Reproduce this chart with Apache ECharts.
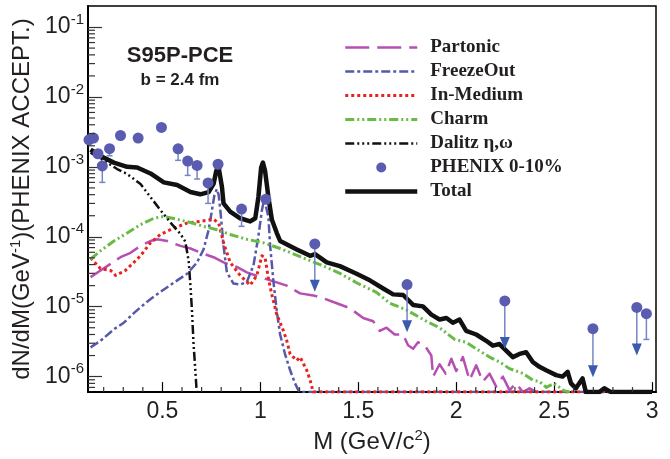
<!DOCTYPE html>
<html><head><meta charset="utf-8">
<script src="https://cdn.jsdelivr.net/npm/echarts@6/dist/echarts.min.js"></script>
<style>html,body{margin:0;padding:0;background:#fff}#chart{width:670px;height:459px}</style>
</head><body><div id="chart"></div>
<script>
// ---------------- data (M in GeV/c^2, dN/dM) ----------------
const seriesNames = ['Partonic','FreezeOut','In-Medium','Charm','Dalitz \u03b7,\u03c9','PHENIX 0-10%','Total'];
const xTickLabels = ['0.5','1','1.5','2','2.5','3'];
const yTickLabels = ['10^-6','10^-5','10^-4','10^-3','10^-2','10^-1'];

const partonic = [[0.133,2.65e-5],[0.184,3.3e-5],[0.235,4.1e-5],[0.286,5.1e-5],[0.337,5.9e-5],[0.388,7.4e-5],[0.439,8.7e-5],[0.473,9.2e-5],[0.524,8.7e-5],[0.592,7.4e-5],[0.643,6.8e-5],[0.710,5.7e-5],[0.761,5.1e-5],[0.812,4.3e-5],[0.880,3.7e-5],[0.931,3.1e-5],[0.999,2.65e-5],[1.067,2.3e-5],[1.135,2.0e-5],[1.203,1.55e-5],[1.270,1.45e-5],[1.321,1.32e-5],[1.390,1.12e-5],[1.457,9.5e-6],[1.525,6.9e-6],[1.576,6.2e-6],[1.610,4.5e-6],[1.644,5.0e-6],[1.686,4.0e-6],[1.729,4.0e-6],[1.754,2.8e-6],[1.780,2.5e-6],[1.805,3.1e-6],[1.839,2.8e-6],[1.873,2.0e-6],[1.882,1.0e-6],[1.915,1.5e-6],[1.946,1.1e-6],[1.975,1.8e-6],[2.0,1.2e-6],[2.034,1.9e-6],[2.068,8.9e-7],[2.102,1.45e-6],[2.136,8.5e-7],[2.170,1.1e-6],[2.204,7.2e-7],[2.238,1.0e-6],[2.272,6.4e-7],[2.306,8.0e-7],[2.340,6e-7],[2.374,6.8e-7],[2.41,6e-7],[2.45,6e-7]];

const freezeOut = [[0.133,2.62e-6],[0.184,3.25e-6],[0.252,4.74e-6],[0.303,5.9e-6],[0.354,8.1e-6],[0.422,1.18e-5],[0.490,1.63e-5],[0.558,2.2e-5],[0.626,2.96e-5],[0.677,4.3e-5],[0.710,6.6e-5],[0.736,1.26e-4],[0.753,2.4e-4],[0.765,3.9e-4],[0.778,4.8e-4],[0.787,4.0e-4],[0.797,2.2e-4],[0.812,7.4e-5],[0.829,3.1e-5],[0.863,2.14e-5],[0.897,2.07e-5],[0.931,2.26e-5],[0.965,3.9e-5],[0.990,1.02e-4],[1.008,2.4e-4],[1.018,3.3e-4],[1.030,2.6e-4],[1.041,1.95e-4],[1.050,7.4e-5],[1.067,2.26e-5],[1.084,8.6e-6],[1.101,4.0e-6],[1.126,2.1e-6],[1.152,1.23e-6],[1.177,8.0e-7],[1.194,6.4e-7],[1.21,6e-7],[2.85,6e-7]];

const inMedium = [[0.133,5.0e-5],[0.184,3.5e-5],[0.235,3.3e-5],[0.261,2.8e-5],[0.311,3.3e-5],[0.354,4.3e-5],[0.388,5.35e-5],[0.439,8.2e-5],[0.490,1.08e-4],[0.558,1.33e-4],[0.626,1.57e-4],[0.693,1.66e-4],[0.761,1.78e-4],[0.787,1.57e-4],[0.812,8.2e-5],[0.846,4.3e-5],[0.897,2.8e-5],[0.948,2.03e-5],[0.982,2.8e-5],[1.008,5.35e-5],[1.024,5.06e-5],[1.041,2.52e-5],[1.059,1.47e-5],[1.084,7.7e-6],[1.118,4.5e-6],[1.135,3.25e-6],[1.152,2.1e-6],[1.186,1.7e-6],[1.203,1.9e-6],[1.237,1.23e-6],[1.254,8.9e-7],[1.270,6e-7],[2.80,6e-7]];

const charm = [[0.133,4.8e-5],[0.184,6.3e-5],[0.252,8.7e-5],[0.320,1.13e-4],[0.388,1.49e-4],[0.456,1.84e-4],[0.507,1.95e-4],[0.575,1.78e-4],[0.643,1.6e-4],[0.710,1.41e-4],[0.778,1.26e-4],[0.846,1.08e-4],[0.931,9.2e-5],[1.016,8.2e-5],[1.101,6.8e-5],[1.203,5.2e-5],[1.305,4.0e-5],[1.406,3.0e-5],[1.491,2.2e-5],[1.593,1.6e-5],[1.661,1.12e-5],[1.746,9.0e-6],[1.847,6.2e-6],[1.915,5.0e-6],[1.992,3.4e-6],[2.051,3.1e-6],[2.102,2.5e-6],[2.170,1.9e-6],[2.221,1.62e-6],[2.272,1.3e-6],[2.340,1.11e-6],[2.391,8.9e-7],[2.425,8.5e-7],[2.46,7.0e-7],[2.50,8.0e-7],[2.55,6.3e-7],[2.58,6e-7]];

const dalitz = [[0.133,1.6e-3],[0.142,1.5e-3],[0.218,1.15e-3],[0.269,9.3e-4],[0.320,7.9e-4],[0.388,5.7e-4],[0.439,3.7e-4],[0.490,2.4e-4],[0.541,1.6e-4],[0.592,1.1e-4],[0.617,8.5e-5],[0.634,4.5e-5],[0.643,2.0e-5],[0.651,8.6e-6],[0.659,2.9e-6],[0.668,1.23e-6],[0.675,6e-7]];

const total = [[0.133,1.77e-3],[0.184,1.43e-3],[0.252,1.15e-3],[0.320,1.0e-3],[0.371,9.8e-4],[0.439,8.05e-4],[0.507,6.0e-4],[0.575,5.5e-4],[0.643,4.36e-4],[0.693,4.05e-4],[0.736,4.36e-4],[0.761,5.7e-4],[0.775,8.8e-4],[0.787,9.8e-4],[0.804,5.13e-4],[0.812,3.0e-4],[0.846,2.29e-4],[0.897,1.84e-4],[0.948,1.66e-4],[0.974,1.84e-4],[0.990,3.7e-4],[1.004,9.8e-4],[1.013,1.15e-3],[1.024,8.8e-4],[1.041,3.7e-4],[1.059,1.75e-4],[1.084,1.13e-4],[1.101,8.7e-5],[1.186,6.6e-5],[1.254,5.35e-5],[1.279,5.65e-5],[1.339,4.3e-5],[1.406,3.8e-5],[1.491,2.96e-5],[1.559,2.38e-5],[1.627,1.82e-5],[1.678,1.5e-5],[1.729,1.47e-5],[1.780,1.06e-5],[1.830,1.01e-5],[1.873,7.7e-6],[1.915,6.55e-6],[1.950,6.9e-6],[1.983,5.9e-6],[2.017,6.55e-6],[2.051,4.5e-6],[2.102,4.0e-6],[2.153,3.25e-6],[2.187,2.77e-6],[2.221,2.92e-6],[2.255,2.36e-6],[2.289,1.9e-6],[2.323,2.11e-6],[2.357,2.23e-6],[2.391,1.62e-6],[2.425,1.38e-6],[2.459,1.23e-6],[2.510,1.05e-6],[2.543,1.0e-6],[2.569,1.17e-6],[2.586,8.0e-7],[2.611,6.8e-7],[2.645,9.4e-7],[2.662,6e-7],[2.73,6e-7],[2.756,6.8e-7],[2.79,6e-7],[3.0,6e-7]];

// PHENIX 0-10% points
const phenixM = [0.125,0.148,0.171,0.193,0.230,0.286,0.376,0.495,0.580,0.629,0.677,0.733,0.784,0.904,1.028,1.278,1.749,2.248,2.698,2.922,2.971];
const phenixY = [2.44e-3,2.58e-3,1.54e-3,1.03e-3,1.82e-3,2.81e-3,2.58e-3,3.67e-3,1.81e-3,1.21e-3,1.05e-3,5.9e-4,1.09e-3,2.49e-4,3.44e-4,7.9e-5,2.07e-5,1.21e-5,4.85e-6,9.75e-6,7.94e-6];
// lower end of error bar (null = none drawn)
const phenixLow = [null,null,null,6.0e-4,1.44e-3,null,null,null,1.24e-3,7.55e-4,6.7e-4,3.0e-4,null,1.41e-4,null,null,null,null,null,null,3.4e-6];
// upper-limit arrows: tip value (null = not an upper limit)
const phenixLimit = [null,null,null,null,null,null,null,null,null,null,null,null,null,null,null,1.63e-5,4.3e-6,2.48e-6,9.8e-7,2.0e-6,null];

// ---------------- axes ----------------
const X_MIN = 0.12, X_MAX = 3.02, Y_MIN = 6e-7, Y_MAX = 0.2;

const xMinor = [];
for (let i = 2; i <= 30; i++) if (i % 5 !== 0) xMinor.push([i / 10, Y_MIN]);
const yMinor = [];
for (let e = -7; e <= -1; e++) for (let k = 2; k <= 9; k++) {
  const v = k * Math.pow(10, e);
  if (v > Y_MIN && v < Y_MAX) yMinor.push([X_MIN, v]);
}

const TXT = '#231f20';
const FONT = '"Liberation Sans", Arial, sans-serif';

const pts = phenixM.map((m, i) => [m, phenixY[i]]);
const errs = [];
phenixM.forEach((m, i) => { if (phenixLow[i] !== null) errs.push([m, phenixY[i], phenixLow[i]]); });
const lims = [];
phenixM.forEach((m, i) => { if (phenixLimit[i] !== null) lims.push([m, phenixY[i], phenixLimit[i]]); });

function lineSeries(name, data, color, width, dash, z) {
  return {
    name, type: 'line', data, showSymbol: false, symbol: 'none', smooth: false,
    lineStyle: { color, width, type: dash, cap: 'butt', join: 'round' },
    itemStyle: { color }, z: z || 2, animation: false, clip: true
  };
}

const hiddenSymbol = { color: 'rgba(0,0,0,0)', borderColor: 'rgba(0,0,0,0)', borderWidth: 0, opacity: 0 };
const legendData = seriesNames.map(n => n === 'PHENIX 0-10%'
  ? { name: n, itemStyle: { color: '#5a5cb0', borderColor: '#fff', borderWidth: 4, opacity: 1 } }
  : { name: n, itemStyle: hiddenSymbol, lineStyle: { width: 'inherit' } });

const chart = echarts.init(document.getElementById('chart'), null, { renderer: 'canvas' });
chart.setOption({
  animation: false,
  backgroundColor: '#fff',
  grid: { left: 88, right: 14, top: 6, bottom: 59, show: true, borderColor: '#000', borderWidth: 1.5, backgroundColor: 'transparent' },
  xAxis: {
    type: 'value', min: X_MIN, max: X_MAX,
    name: '{a|M (GeV/c}{s|2}{a|)}', nameLocation: 'middle', nameGap: 30,
    nameTextStyle: { color: TXT, fontFamily: FONT, fontSize: 24, verticalAlign: 'top',
      rich: { a: { fontSize: 24, fontFamily: FONT, color: TXT, lineHeight: 28 }, s: { fontSize: 15, fontFamily: FONT, color: TXT, verticalAlign: 'top', lineHeight: 16 } } },
    axisLine: { show: true, onZero: false, lineStyle: { color: '#000', width: 2 } },
    axisTick: { show: true, inside: true, length: 10, lineStyle: { color: '#000', width: 1.2 } },
    minorTick: { show: false },
    splitLine: { show: false },
    axisLabel: {
      show: true, margin: 8, color: TXT, fontFamily: FONT, fontSize: 23, showMinLabel: false, showMaxLabel: false,
      formatter: v => { const s = String(Math.round(v * 10) / 10); return xTickLabels.includes(s) ? s : ''; }
    }
  },
  yAxis: {
    type: 'log', logBase: 10, min: Y_MIN, max: Y_MAX,
    name: '{a|dN/dM(GeV}{s|-1}{a|)(PHENIX ACCEPT.)}', nameLocation: 'middle', nameGap: 50, nameRotate: 90,
    nameTextStyle: { color: TXT, fontFamily: FONT, fontSize: 24,
      rich: { a: { fontSize: 24, fontFamily: FONT, color: TXT, lineHeight: 28 }, s: { fontSize: 15, fontFamily: FONT, color: TXT, verticalAlign: 'top', lineHeight: 16 } } },
    axisLine: { show: true, onZero: false, lineStyle: { color: '#000', width: 2 } },
    axisTick: { show: true, inside: true, length: 14, lineStyle: { color: '#333', width: 1.2 } },
    splitLine: { show: false },
    minorTick: { show: false },
    axisLabel: {
      show: true, margin: 4, showMinLabel: false, showMaxLabel: false,
      formatter: v => {
        const e = Math.round(Math.log10(v));
        if (Math.abs(Math.log10(v) - e) > 1e-6) return '';
        const key = '10^' + e;
        if (!yTickLabels.includes(key)) return '';
        return '{b|10}{s|' + e + '}';
      },
      rich: {
        b: { fontSize: 23, fontFamily: FONT, color: TXT, lineHeight: 30 },
        s: { fontSize: 15, fontFamily: FONT, color: TXT, verticalAlign: 'top', lineHeight: 16 }
      }
    }
  },
  legend: {
    orient: 'vertical', left: 343, top: 37, padding: 0, itemWidth: 72, itemHeight: 14, itemGap: 3,
    data: legendData, selectedMode: false,
    lineStyle: { width: 'inherit' },
    textStyle: { fontFamily: '"Liberation Serif", "Times New Roman", serif', fontWeight: 'bold', fontSize: 19, lineHeight: 21, color: TXT, padding: [0, 0, 0, 8] }
  },
  graphic: [
    { type: 'text', x: 180, y: 56, style: { text: 'S95P-PCE', font: 'bold 22px "Liberation Sans", Arial, sans-serif', fill: TXT, align: 'center', verticalAlign: 'middle' } },
    { type: 'text', x: 180, y: 80, style: { text: 'b = 2.4 fm', font: 'bold 17px "Liberation Sans", Arial, sans-serif', fill: TXT, align: 'center', verticalAlign: 'middle' } }
  ],
  series: [
    lineSeries(seriesNames[0], partonic, '#b54fb2', 2.5, [24, 8]),
    lineSeries(seriesNames[1], freezeOut, '#5658aa', 2.5, [9, 3, 3, 3]),
    lineSeries(seriesNames[2], inMedium, '#e8231f', 3, [3, 3]),
    lineSeries(seriesNames[3], charm, '#68bb45', 3, [9, 3, 2, 3, 2, 3]),
    lineSeries(seriesNames[4], dalitz, '#111', 2.5, [9, 3, 2, 3, 2, 3, 2, 3]),
    lineSeries(seriesNames[6], total, '#111', 4.5, 'solid', 3),
    {
      name: 'errbars', type: 'custom', data: errs, z: 4, silent: true,
      renderItem: (params, api) => {
        const a = api.coord([api.value(0), api.value(1)]);
        const b = api.coord([api.value(0), api.value(2)]);
        return { type: 'group', children: [
          { type: 'line', shape: { x1: a[0], y1: a[1], x2: b[0], y2: b[1] }, style: { stroke: '#7585c6', lineWidth: 1.5 } },
          { type: 'line', shape: { x1: b[0] - 3, y1: b[1], x2: b[0] + 3, y2: b[1] }, style: { stroke: '#7585c6', lineWidth: 1.5 } }
        ] };
      }
    },
    {
      name: 'limits', type: 'custom', data: lims, z: 4, silent: true,
      renderItem: (params, api) => {
        const a = api.coord([api.value(0), api.value(1)]);
        const b = api.coord([api.value(0), api.value(2)]);
        return { type: 'group', children: [
          { type: 'line', shape: { x1: a[0], y1: a[1], x2: b[0], y2: b[1] - 10 }, style: { stroke: '#7585c6', lineWidth: 1.5 } },
          { type: 'polygon', shape: { points: [[b[0] - 5, b[1] - 12], [b[0] + 5, b[1] - 12], [b[0], b[1]]] }, style: { fill: '#3b5bae' } }
        ] };
      }
    },
    {
      name: seriesNames[5], type: 'scatter', data: pts, symbol: 'circle', symbolSize: 11, z: 5,
      itemStyle: { color: '#5a5cb0', opacity: 1 }, clip: false
    },
    {
      name: 'xminor', type: 'custom', data: xMinor, z: 6, silent: true,
      renderItem: (params, api) => {
        const p = api.coord([api.value(0), api.value(1)]);
        return { type: 'line', shape: { x1: p[0], y1: p[1], x2: p[0], y2: p[1] - 5 }, style: { stroke: '#333', lineWidth: 1.2 } };
      }
    },
    {
      name: 'yminor', type: 'custom', data: yMinor, z: 6, silent: true,
      renderItem: (params, api) => {
        const p = api.coord([api.value(0), api.value(1)]);
        return { type: 'line', shape: { x1: p[0], y1: p[1], x2: p[0] + 7, y2: p[1] }, style: { stroke: '#333', lineWidth: 1.2 } };
      }
    }
  ]
});
</script>
</body></html>
